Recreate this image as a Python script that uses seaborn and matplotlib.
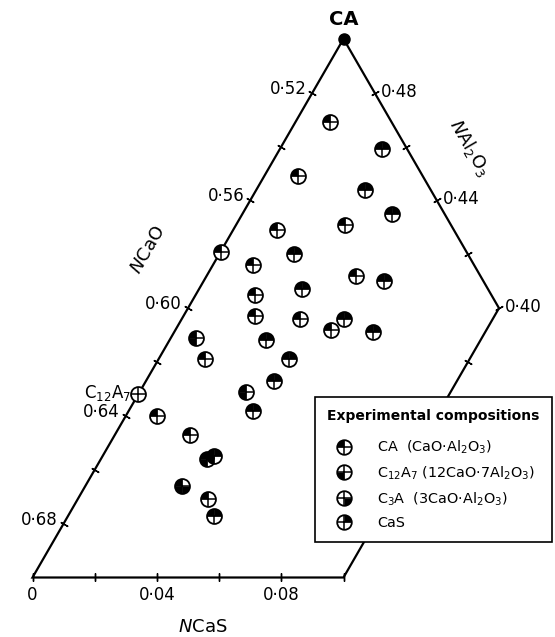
import numpy as np
import pandas as pd
import matplotlib
matplotlib.use("Agg")
import matplotlib.pyplot as plt
import seaborn as sns
from matplotlib.path import Path
from matplotlib.lines import Line2D
from matplotlib.legend_handler import HandlerTuple

# experimental compositions (mole fractions)
n_cas = [0.011, 0.033, 0.011, 0.035, 0.048, 0.035, 0.014, 0.000, 0.024, 0.013,
         0.048, 0.058, 0.033, 0.019, 0.023, 0.038, 0.050, 0.052, 0.064, 0.008,
         0.031, 0.015, 0.042, 0.041, 0.034, 0.040, 0.000, 0.010, 0.024, 0.034,
         0.036, 0.031, 0.042, 0.047]
n_al2o3 = [0.469, 0.459, 0.449, 0.444, 0.435, 0.431, 0.429, 0.421, 0.420, 0.416,
           0.412, 0.410, 0.407, 0.405, 0.397, 0.396, 0.392, 0.396, 0.391, 0.389,
           0.388, 0.381, 0.381, 0.373, 0.369, 0.362, 0.368, 0.360, 0.353, 0.344,
           0.345, 0.334, 0.329, 0.323]
# phases found in each sample
phases = ["CA", "CA+CaS", "CA", "CA+CaS", "CA+CaS", "CA", "CA", "CA", "CA+CaS", "CA",
          "CA", "CA+CaS", "CA+CaS", "CA", "CA", "CA", "CA", "CA+CaS", "CA+CaS", "CA+C12A7",
          "CA+CaS", "CA", "CA+CaS", "CA+CaS", "CA+C12A7", "CA+CaS", "", "CA", "CA",
          "CA+CaS+C12A7", "CA+CaS+C12A7", "CA+C12A7+C3A", "CA", "CA+CaS"]

phase_names = ["CA", "C12A7", "C3A", "CaS"]
phase_labels = [r"CA  (CaO$\cdot$Al$_2$O$_3$)",
                r"C$_{12}$A$_7$ (12CaO$\cdot$7Al$_2$O$_3$)",
                r"C$_3$A  (3CaO$\cdot$Al$_2$O$_3$)",
                "CaS"]
# quadrant of the symbol blackened for each phase
quadrant = {"CA": (90, 180), "C12A7": (180, 270), "C3A": (270, 360), "CaS": (0, 90)}

left_ticks = [0.52, 0.54, 0.56, 0.58, 0.60, 0.62, 0.64, 0.66, 0.68]
left_labels = {0.52: "0·52", 0.56: "0·56", 0.60: "0·60", 0.64: "0·64", 0.68: "0·68"}
bottom_ticks = [0.0, 0.02, 0.04, 0.06, 0.08, 0.10]
bottom_labels = {0.0: "0", 0.04: "0·04", 0.08: "0·08"}
right_ticks = [0.48, 0.46, 0.44, 0.42, 0.40]
right_labels = {0.48: "0·48", 0.44: "0·44", 0.40: "0·40"}

S3 = np.sqrt(3) / 2


def to_xy(cas, al):
    cas = np.asarray(cas, dtype=float)
    al = np.asarray(al, dtype=float)
    return cas + al / 2, al * S3


df = pd.DataFrame({"cas": n_cas, "al": n_al2o3, "phases": phases})
df["x"], df["y"] = to_xy(df["cas"], df["al"])

fig = plt.figure(figsize=(5.55, 6.37), dpi=100)
ax = fig.add_axes([0, 0, 1, 1])
sc = 3110.0
ax.set_xlim(0.15 - 32.5 / sc, 0.15 + 522.5 / sc)
ax.set_ylim(0.3 * S3 - 59.5 / sc, 0.3 * S3 + 577.5 / sc)
ax.axis("off")

# region boundary
bx, by = to_xy([0, 0, 0.1, 0.1, 0], [0.5, 0.3, 0.3, 0.4, 0.5])
ax.plot(bx, by, color="black", lw=1.6, zorder=1, solid_joinstyle="miter")

# ticks
tx, ty = to_xy([0] * len(left_ticks), [1 - v for v in left_ticks])
ax.plot(tx, ty, ls="", marker=(2, 2, 60), ms=6, mew=1.0, color="black")
tx, ty = to_xy(bottom_ticks, [0.3] * len(bottom_ticks))
ax.plot(tx, ty, ls="", marker=(2, 2, 0), ms=6, mew=1.0, color="black")
tx, ty = to_xy([0.5 - v for v in right_ticks], right_ticks)
ax.plot(tx, ty, ls="", marker=(2, 2, -60), ms=6, mew=1.0, color="black")
tx, ty = to_xy([0.1], [0.38])
ax.plot(tx, ty, ls="", marker=(2, 2, 60), ms=6, mew=1.0, color="black")

px = 0.72  # points per pixel
for v, lab in left_labels.items():
    x, y = to_xy(0, 1 - v)
    ax.annotate(lab, (x, y), xytext=(-6 * px, 4 * px), textcoords="offset points",
                ha="right", va="center", fontsize=12)
for v, lab in bottom_labels.items():
    x, y = to_xy(v, 0.3)
    ax.annotate(lab, (x, y), xytext=(0, -18 * px), textcoords="offset points",
                ha="center", va="center", fontsize=12)
for v, lab in right_labels.items():
    x, y = to_xy(0.5 - v, v)
    ax.annotate(lab, (x, y), xytext=(6 * px, 1 * px), textcoords="offset points",
                ha="left", va="center", fontsize=12)

# CA apex
x, y = to_xy(0, 0.5)
ax.plot([x], [y], marker="o", ms=8, color="black", zorder=6)
ax.annotate("CA", (x, y), xytext=(0, 19 * px), textcoords="offset points",
            ha="center", va="center", fontsize=14, fontweight="bold")

# symbols
S = 115
sns.scatterplot(data=df, x="x", y="y", ax=ax, marker="o", s=S, color="white",
                edgecolor="black", linewidth=1.3, zorder=3, legend=False)
wedges = {}
for ph in phase_names:
    t1, t2 = quadrant[ph]
    wedges[ph] = Path.wedge(t1, t2)
    sub = df[df["phases"].str.split("+").apply(lambda p: ph in p)]
    if len(sub):
        sns.scatterplot(data=sub, x="x", y="y", ax=ax, marker=wedges[ph], s=S,
                        color="black", linewidth=0, zorder=4, legend=False)
sns.scatterplot(data=df, x="x", y="y", ax=ax, marker="+", s=S, color="black",
                linewidth=1.1, zorder=5, legend=False)

# C12A7 composition label
x, y = to_xy(0, 7 / 19)
ax.annotate(r"C$_{12}$A$_7$", (x, y), xytext=(-8 * px, 0), textcoords="offset points",
            ha="right", va="center", fontsize=12)

# axis names
fig.text(148 / 555, 1 - 250 / 637, r"$N$CaO", rotation=60, ha="center", va="center",
         fontsize=13)
fig.text(470 / 555, 1 - 148 / 637, r"$N$Al$_2$O$_3$", rotation=-60, ha="center",
         va="center", fontsize=13)
fig.text(203 / 555, 1 - 627 / 637, r"$N$CaS", ha="center", va="center", fontsize=13)

# legend
handles = []
for ph in phase_names:
    handles.append((
        Line2D([], [], ls="", marker="o", ms=10.5, mfc="white", mec="black", mew=1.3),
        Line2D([], [], ls="", marker=wedges[ph], ms=10.5, mfc="black", mec="none"),
        Line2D([], [], ls="", marker="+", ms=10.5, mec="black", mew=1.1),
    ))
leg = ax.legend(handles, phase_labels, handler_map={tuple: HandlerTuple(ndivide=1, pad=0)},
                loc="upper left", bbox_to_anchor=(315 / 555, 1 - 397 / 637),
                title="Experimental compositions", alignment="left",
                title_fontproperties={"weight": "bold", "size": 10},
                fontsize=10.4, frameon=True, fancybox=False, edgecolor="black",
                framealpha=1, handletextpad=1.1, labelspacing=0.58,
                borderpad=0.85, handlelength=2.35, borderaxespad=0)
leg._legend_box.sep = 11
leg.get_frame().set_linewidth(1.2)
leg.set_zorder(10)

fig.savefig("out.png", dpi=100)
